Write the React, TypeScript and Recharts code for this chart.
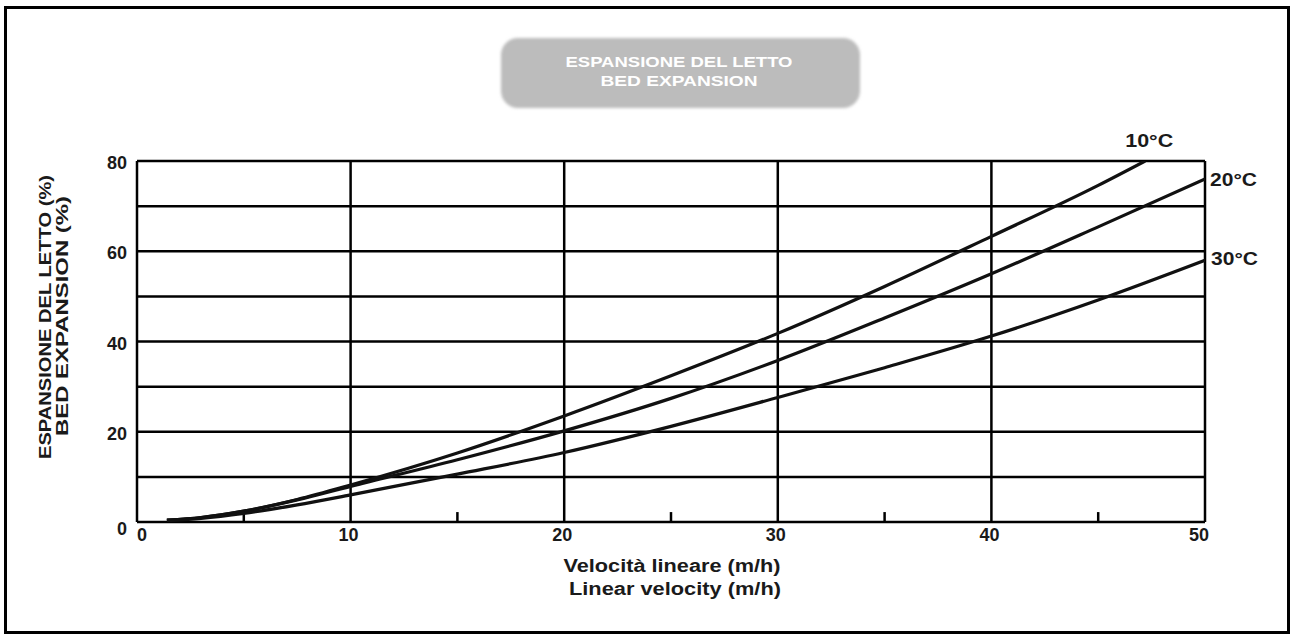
import React from "react";
import { LineChart, Line, XAxis, YAxis, CartesianGrid, ReferenceLine } from "recharts";

// ---- data ----
const xTicks = [0, 10, 20, 30, 40, 50];
const yTicks = [0, 10, 20, 30, 40, 50, 60, 70, 80];
const yLabelTicks = [0, 20, 40, 60, 80];
const minorXTicks = [5, 15, 25, 35, 45];

const x10 = [1.4, 3, 5, 7.5, 10, 15, 20, 25, 30, 35, 40, 45, 47.2];
const y10 = [0.4, 1.0, 2.4, 5.0, 8.2, 15.3, 23.5, 32.4, 41.8, 52.2, 63.3, 74.6, 80];

const x20 = [1.4, 3, 5, 7.5, 10, 15, 20, 25, 30, 35, 40, 45, 50];
const y20 = [0.4, 1.0, 2.4, 4.9, 7.9, 13.8, 20.2, 27.4, 35.8, 45.2, 55, 65.4, 76];

const x30 = [1.4, 3, 5, 7.5, 10, 15, 20, 25, 30, 35, 40, 45, 50];
const y30 = [0.3, 0.8, 1.9, 3.8, 6.0, 10.6, 15.4, 21.2, 27.6, 34.2, 41.2, 49.2, 58];

const seriesNames = ["10°C", "20°C", "30°C"];

const titleLines = ["ESPANSIONE DEL LETTO", "BED EXPANSION"];
const xTitleLines = ["Velocità lineare (m/h)", "Linear velocity (m/h)"];
const yTitleLines = ["ESPANSIONE DEL LETTO (%)", "BED EXPANSION (%)"];

const toRows = (xs: number[], ys: number[]) => xs.map((x, i) => ({ x, y: ys[i] }));

const series = [
  { name: seriesNames[0], data: toRows(x10, y10) },
  { name: seriesNames[1], data: toRows(x20, y20) },
  { name: seriesNames[2], data: toRows(x30, y30) },
];

// label placement style (offsets from the end point)
const labelStyle = [
  { dx: 4, dy: -20, anchor: "middle", len: 48 },
  { dx: 5, dy: 1, anchor: "start", len: 47 },
  { dx: 6, dy: -1, anchor: "start", len: 47 },
];

const W = 1296;
const H = 641;
const FONT = "'Liberation Sans', Arial, sans-serif";
const INK = "#1a1a1a";

const makeLabel = (idx: number, last: number) => (props: any) => {
  const { x, y, index } = props;
  if (index !== last) return <g />;
  const s = labelStyle[idx];
  return (
    <text
      x={x + s.dx}
      y={y + s.dy}
      textAnchor={s.anchor as any}
      dominantBaseline="central"
      fontFamily={FONT}
      fontWeight="bold"
      fontSize={18}
      fill={INK}
      textLength={s.len}
      lengthAdjust="spacingAndGlyphs"
    >
      {series[idx].name}
    </text>
  );
};

const YTick = (props: any) => {
  const { x, y, payload } = props;
  if (!yLabelTicks.includes(payload.value)) return <g />;
  const extra = payload.value === 0 ? 7 : 2;
  return (
    <text x={x} y={y + extra} textAnchor="end" dominantBaseline="central" fontFamily={FONT} fontWeight="bold" fontSize={18} fill={INK}>
      {payload.value}
    </text>
  );
};

const XTick = (props: any) => {
  const { x, y, payload } = props;
  let shift = -2;
  if (payload.value === 0) shift = 5;
  if (payload.value === 50) shift = -6;
  return (
    <text x={x + shift} y={y} dy="0.71em" textAnchor="middle" fontFamily={FONT} fontWeight="bold" fontSize={18} fill={INK}>
      {payload.value}
    </text>
  );
};

export default function App() {
  return (
    <div style={{ position: "absolute", left: 0, top: 0, width: W, height: H, background: "#fff", overflow: "hidden" }}>
      <div
        style={{
          position: "absolute",
          left: 4,
          top: 6,
          width: 1286,
          height: 628,
          border: "3px solid #000",
          boxSizing: "border-box",
        }}
      />
      <div style={{ position: "absolute", left: 0, top: 0 }}>
        <LineChart width={W} height={H} margin={{ top: 161, right: 91, bottom: 89, left: 77 }}>
          <CartesianGrid stroke="#000" strokeWidth={2.5} />
          <XAxis
            dataKey="x"
            type="number"
            domain={[0, 50]}
            ticks={xTicks}
            allowDataOverflow
            axisLine={false}
            tickLine={false}
            tickSize={0}
            tickMargin={6}
            height={30}
            tick={<XTick />}
          />
          <YAxis
            type="number"
            domain={[0, 80]}
            ticks={yTicks}
            allowDataOverflow
            axisLine={false}
            tickLine={false}
            tickSize={0}
            tickMargin={10}
            width={60}
            tick={<YTick />}
          />
          {minorXTicks.map((t) => (
            <ReferenceLine
              key={t}
              segment={[
                { x: t, y: 0 },
                { x: t, y: 2.2 },
              ]}
              stroke="#000"
              strokeWidth={2.5}
            />
          ))}
          {series.map((s, i) => (
            <Line
              key={s.name}
              data={s.data}
              dataKey="y"
              name={s.name}
              type="monotone"
              stroke="#111"
              strokeWidth={3.2}
              dot={false}
              isAnimationActive={false}
              label={makeLabel(i, s.data.length - 1)}
            />
          ))}
        </LineChart>
      </div>
      <svg width={W} height={H} style={{ position: "absolute", left: 0, top: 0, pointerEvents: "none" }}>
        <defs>
          <filter id="soft" x="-10%" y="-20%" width="120%" height="140%">
            <feGaussianBlur stdDeviation="1.5" />
          </filter>
        </defs>
        <rect x={501} y={38} width={359} height={70} rx={17} fill="#bcbcbc" filter="url(#soft)" />
        <text x={679} y={61} textAnchor="middle" dominantBaseline="central" fontFamily={FONT} fontWeight="bold" fontSize={15} fill="#fff" textLength={227} lengthAdjust="spacingAndGlyphs">
          {titleLines[0]}
        </text>
        <text x={679} y={80} textAnchor="middle" dominantBaseline="central" fontFamily={FONT} fontWeight="bold" fontSize={15} fill="#fff" textLength={157} lengthAdjust="spacingAndGlyphs">
          {titleLines[1]}
        </text>
        <text x={672} y={566} textAnchor="middle" dominantBaseline="central" fontFamily={FONT} fontWeight="bold" fontSize={18} fill={INK} textLength={217} lengthAdjust="spacingAndGlyphs">
          {xTitleLines[0]}
        </text>
        <text x={675} y={589} textAnchor="middle" dominantBaseline="central" fontFamily={FONT} fontWeight="bold" fontSize={18} fill={INK} textLength={212} lengthAdjust="spacingAndGlyphs">
          {xTitleLines[1]}
        </text>
        <text
          transform="translate(45,317) rotate(-90)"
          textAnchor="middle"
          dominantBaseline="central"
          fontFamily={FONT}
          fontWeight="bold"
          fontSize={17}
          fill={INK}
          textLength={284}
          lengthAdjust="spacingAndGlyphs"
        >
          {yTitleLines[0]}
        </text>
        <text
          transform="translate(62,316) rotate(-90)"
          textAnchor="middle"
          dominantBaseline="central"
          fontFamily={FONT}
          fontWeight="bold"
          fontSize={17}
          fill={INK}
          textLength={240}
          lengthAdjust="spacingAndGlyphs"
        >
          {yTitleLines[1]}
        </text>
      </svg>
    </div>
  );
}
